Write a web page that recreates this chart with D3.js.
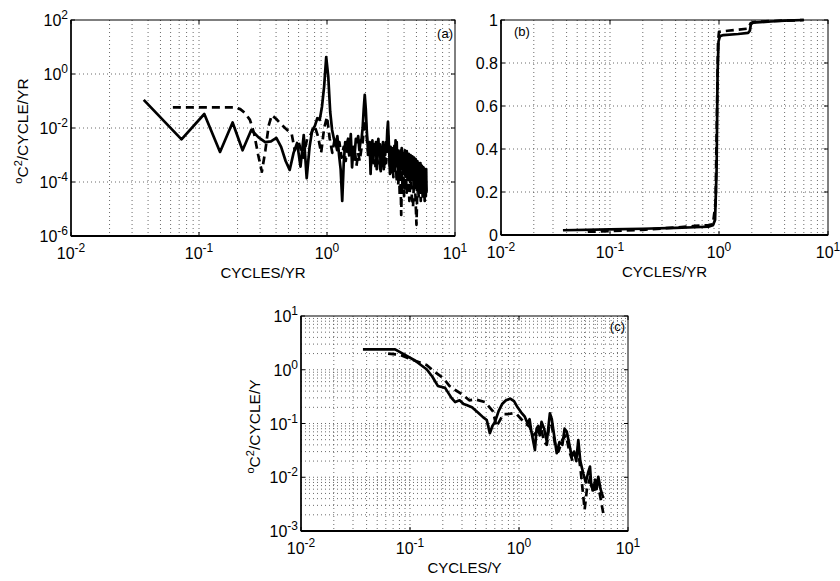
<!DOCTYPE html>
<html><head><meta charset="utf-8">
<script src="https://cdn.jsdelivr.net/npm/d3@7"></script>
<style>
body{margin:0;background:#fff}
svg{display:block}
text{font-family:"Liberation Sans",Arial,Helvetica,sans-serif;fill:#000}
</style>
</head><body>
<svg id="chart" width="840" height="581"></svg>
<script>
// ---------- DATA ----------
// Panel (a): spectra, [frequency (cycles/yr), power]
const specA_solid = [[0.037,0.11],[0.073,3.8e-3],[0.110,0.033],[0.146,1.3e-3],[0.183,0.016],[0.219,1.5e-3],[0.256,8.5e-3],[0.292,4.5e-3],[0.329,3.0e-3],[0.365,3.2e-3],[0.402,4.3e-3],[0.438,2.0e-3],[0.475,6e-4],[0.511,2.8e-4],[0.548,1.2e-3],[0.584,2.8e-3],[0.621,3.7e-4],[0.658,5.5e-3],[0.694,1.4e-4],[0.731,2e-3],[0.767,8.5e-3],[0.804,0.012],[0.840,0.023],[0.877,0.02],[0.913,0.06],[0.950,0.35],[0.986,4.2],[1.023,0.8],[1.059,0.04],[1.096,8.5e-3],[1.132,4e-3],[1.169,2.5e-3],[1.205,5e-3],[1.242,1e-3],[1.278,3e-4],[1.315,2e-5],[1.351,5e-4],[1.388,3e-3],[1.424,2.5e-3],[1.461,4e-3],[1.497,1e-3],[1.534,6e-3],[1.570,3.5e-4],[1.607,2e-3],[1.643,1e-3],[1.680,4e-3],[1.717,3e-3],[1.753,5e-3],[1.790,1.5e-3],[1.826,3e-3],[1.863,4e-3],[1.899,0.01],[1.936,0.05],[1.972,0.17],[2.009,0.05],[2.045,8e-3],[2.082,2e-3],[2.118,1e-3],[2.155,3e-3],[2.191,2e-4],[2.228,2e-3],[2.264,3.5e-3],[2.301,6e-4],[2.338,2.5e-3],[2.374,1e-3],[2.411,3e-3],[2.447,3e-4],[2.484,2.2e-3],[2.520,4e-3],[2.557,1e-3],[2.593,2.5e-3],[2.630,2.5e-4],[2.666,2e-3],[2.703,1.2e-3],[2.739,3e-3],[2.776,3e-4],[2.812,2e-3],[2.849,1e-3],[2.885,3e-3],[2.922,2e-3],[2.959,8e-3],[2.995,0.017],[3.032,4e-3],[3.068,1e-3],[3.105,2e-4],[3.141,2e-3],[3.178,7e-4],[3.214,1.8e-3],[3.251,4e-4],[3.287,1.5e-3],[3.324,8e-4],[3.360,2.2e-3],[3.397,5e-4],[3.433,3.5e-3],[3.470,1e-3],[3.506,3e-3],[3.543,4e-4],[3.580,1.5e-3],[3.616,2e-4],[3.653,1.2e-3],[3.689,5e-4],[3.726,1.5e-4],[3.762,1.5e-3],[3.799,4e-4],[3.835,1.8e-3],[3.872,3e-4],[3.908,1.2e-3],[3.945,2e-4],[3.981,1e-3],[4.018,3e-4],[4.054,1.5e-3],[4.091,2.5e-4],[4.127,1e-3],[4.164,1.5e-4],[4.200,1.4e-3],[4.237,3e-4],[4.273,9e-4],[4.310,1.2e-4],[4.347,1.1e-3],[4.383,2e-4],[4.420,8e-4],[4.456,1e-4],[4.493,1e-3],[4.529,3e-4],[4.566,7e-4],[4.602,1.2e-4],[4.639,9e-4],[4.675,2e-4],[4.712,6e-4],[4.748,8e-5],[4.785,8e-4],[4.821,1.5e-4],[4.858,5e-4],[4.894,6e-5],[4.931,7e-4],[4.968,1.5e-4],[5.004,5e-4],[5.041,5e-5],[5.077,6e-4],[5.114,1e-4],[5.150,4e-4],[5.187,5e-5],[5.223,5e-4],[5.260,8e-5],[5.296,4e-4],[5.333,4e-5],[5.369,5e-4],[5.406,7e-5],[5.442,3.5e-4],[5.479,4e-5],[5.515,4e-4],[5.552,6e-5],[5.589,3e-4],[5.625,3e-5],[5.662,3.5e-4],[5.698,5e-5],[5.735,3e-4],[5.771,3e-5],[5.808,3e-4],[5.844,4e-5],[5.881,2.5e-4],[5.917,3e-5],[5.954,3e-4],[5.990,4e-5]];
const specA_dashed = [[0.0625,0.058],[0.125,0.058],[0.19,0.058],[0.21,0.05],[0.23,0.035],[0.25,0.02],[0.27,6e-3],[0.29,1e-3],[0.31,2.4e-4],[0.33,1.5e-3],[0.35,0.012],[0.37,0.03],[0.40,0.022],[0.43,0.015],[0.47,0.01],[0.53,6e-3],[0.56,1.5e-3],[0.6,3e-3],[0.65,8e-4],[0.7,4e-3],[0.75,6e-3],[0.8,0.012],[0.85,5e-3],[0.9,1.2e-3],[0.95,0.01],[1.0,0.026],[1.05,4e-3],[1.1,1.2e-3],[1.15,4e-3],[1.2,1.5e-3],[1.25,3e-3],[1.3,8e-4],[1.35,2e-3],[1.4,6e-4],[1.45,2.5e-3],[1.5,8e-4],[1.55,2e-3],[1.6,5e-4],[1.65,1.5e-3],[1.7,4e-4],[1.75,1.2e-3],[1.8,6e-4],[1.85,1.5e-3],[1.9,3e-3],[1.95,0.012],[2.0,0.02],[2.05,4e-3],[2.1,8e-4],[2.15,1.5e-3],[2.2,4e-4],[2.25,1.2e-3],[2.3,5e-4],[2.35,1.5e-3],[2.4,3e-4],[2.45,1e-3],[2.5,5e-4],[2.55,1.2e-3],[2.6,3e-4],[2.65,1e-3],[2.7,4e-4],[2.75,1.2e-3],[2.8,3e-4],[2.85,9e-4],[2.9,5e-4],[2.95,2e-3],[3.0,5e-3],[3.05,1.5e-3],[3.1,3e-4],[3.15,8e-4],[3.2,2e-4],[3.25,7e-4],[3.3,1.5e-4],[3.35,6e-4],[3.4,2e-4],[3.45,8e-4],[3.5,1e-4],[3.55,5e-4],[3.6,8e-5],[3.65,4e-4],[3.7,3e-5],[3.75,3e-4],[3.8,6e-6],[3.85,2e-4],[3.9,5e-5],[3.95,3e-4],[4.0,3e-5],[4.1,2.5e-4],[4.2,4e-5],[4.3,3e-4],[4.4,2e-5],[4.5,2e-4],[4.6,3e-5],[4.7,1.2e-5],[4.8,2e-4],[4.9,4e-5],[5.0,2.6e-6],[5.1,1.5e-4],[5.2,3e-5],[5.3,2e-4],[5.4,2e-5],[5.5,1.5e-4],[5.6,3e-5],[5.7,1.2e-4],[5.8,2e-5],[5.9,1e-4],[6.0,3e-5]];

// Panel (b): cumulative normalized variance
const cumB_solid = [[0.037,0.022],[0.1,0.026],[0.2,0.029],[0.4,0.033],[0.6,0.036],[0.8,0.039],[0.88,0.045],[0.92,0.07],[0.95,0.3],[0.97,0.75],[0.99,0.90],[1.02,0.925],[1.1,0.93],[1.5,0.935],[1.85,0.94],[1.92,0.95],[1.96,0.98],[2.05,0.988],[3,0.993],[4,0.997],[6,1.0]];
const cumB_dashed = [[0.0625,0.015],[0.1,0.018],[0.2,0.024],[0.4,0.035],[0.6,0.042],[0.8,0.046],[0.88,0.05],[0.93,0.15],[0.96,0.6],[0.98,0.90],[1.0,0.945],[1.2,0.95],[1.5,0.955],[1.85,0.96],[1.95,0.985],[2.05,0.99],[3,0.995],[6,1.0]];

// Panel (c): spectra, [frequency (cycles/y), power]
const specC_solid = [[0.037,2.4],[0.055,2.4],[0.073,2.4],[0.11,1.5],[0.142,1.02],[0.16,0.75],[0.18,0.5],[0.21,0.46],[0.24,0.3],[0.26,0.25],[0.285,0.27],[0.31,0.23],[0.33,0.22],[0.37,0.2],[0.42,0.16],[0.47,0.13],[0.506,0.116],[0.54,0.066],[0.57,0.09],[0.6,0.105],[0.65,0.17],[0.7,0.23],[0.76,0.27],[0.83,0.29],[0.9,0.26],[0.97,0.2],[1.05,0.16],[1.13,0.134],[1.2,0.1],[1.25,0.12],[1.3,0.07],[1.4,0.032],[1.45,0.08],[1.5,0.09],[1.55,0.06],[1.61,0.107],[1.7,0.08],[1.8,0.046],[1.92,0.155],[2.0,0.12],[2.1,0.06],[2.22,0.028],[2.35,0.045],[2.5,0.04],[2.62,0.08],[2.74,0.071],[2.9,0.04],[3.05,0.024],[3.2,0.03],[3.35,0.02],[3.5,0.049],[3.65,0.02],[3.89,0.0117],[4.1,0.008],[4.3,0.012],[4.48,0.0158],[4.6,0.007],[4.8,0.0057],[5.0,0.009],[5.15,0.006],[5.34,0.0102],[5.6,0.006],[5.94,0.0041]];
const specC_dashed = [[0.063,2.0],[0.08,1.9],[0.1,1.6],[0.142,1.23],[0.17,0.9],[0.203,0.69],[0.23,0.5],[0.26,0.42],[0.3,0.35],[0.35,0.27],[0.4,0.28],[0.49,0.25],[0.58,0.166],[0.62,0.087],[0.66,0.11],[0.72,0.15],[0.8,0.15],[0.89,0.155],[0.95,0.15],[1.05,0.12],[1.15,0.1],[1.25,0.087],[1.35,0.06],[1.45,0.07],[1.6,0.08],[1.7,0.045],[1.8,0.04],[1.9,0.1],[2.0,0.09],[2.15,0.04],[2.3,0.03],[2.5,0.05],[2.7,0.06],[2.9,0.03],[3.1,0.02],[3.3,0.025],[3.5,0.03],[3.7,0.012],[4.0,0.0025],[4.2,0.006],[4.5,0.01],[4.8,0.005],[5.1,0.007],[5.5,0.005],[5.94,0.0021]];

// Tick values
const xTicks = [0.01, 0.1, 1, 10];
const yTicksA = [1e-6, 1e-4, 1e-2, 1, 1e2];
const yTicksB = [0, 0.2, 0.4, 0.6, 0.8, 1];
const yTicksC = [1e-3, 1e-2, 1e-1, 1, 10];

// ---------- DRAW ----------
const svg = d3.select('#chart');
let clipId = 0;

function minorLogValues(lo, hi) {
  const out = [];
  for (let e = Math.round(Math.log10(lo)); e < Math.round(Math.log10(hi)); e++) {
    for (let m = 1; m <= 9; m++) {
      const v = m * Math.pow(10, e);
      if (v > lo * 1.0001 && v < hi * 0.9999) out.push(v);
    }
  }
  return out;
}

function expLabel(sel, v) {
  const e = Math.round(Math.log10(v));
  sel.append('tspan').text('10');
  sel.append('tspan').attr('dy', -7).attr('font-size', 12).text(String(e));
}

function panel(o) {
  const g = svg.append('g');
  const x = d3.scaleLog().domain([0.01, 10]).range([o.x0, o.x1]);
  const y = o.ylog ? d3.scaleLog().domain(o.ydom).range([o.y1, o.y0])
                   : d3.scaleLinear().domain(o.ydom).range([o.y1, o.y0]);
  const grid = g.append('g').attr('stroke', '#444').attr('stroke-width', 0.8)
    .attr('stroke-dasharray', '1,3').attr('fill', 'none');
  minorLogValues(0.01, 10).forEach(v => {
    grid.append('line').attr('x1', x(v)).attr('x2', x(v)).attr('y1', o.y0).attr('y2', o.y1);
  });
  o.hgrid.forEach(v => {
    grid.append('line').attr('x1', o.x0).attr('x2', o.x1).attr('y1', y(v)).attr('y2', y(v));
  });

  const id = 'clip' + (clipId++);
  svg.append('clipPath').attr('id', id).append('rect')
    .attr('x', o.x0).attr('y', o.y0 - 2).attr('width', o.x1 - o.x0).attr('height', o.y1 - o.y0 + 2);
  const line = d3.line().x(d => x(d[0])).y(d => y(d[1]));
  const lg = g.append('g').attr('clip-path', `url(#${id})`);
  lg.append('path').datum(o.dashed).attr('d', line).attr('fill', 'none').attr('stroke', '#000')
    .attr('stroke-width', 2.7).attr('stroke-dasharray', '8,5').attr('stroke-linejoin', 'round');
  lg.append('path').datum(o.solid).attr('d', line).attr('fill', 'none').attr('stroke', '#000')
    .attr('stroke-width', 2.7).attr('stroke-linejoin', 'round');

  g.append('rect').attr('x', o.x0).attr('y', o.y0).attr('width', o.x1 - o.x0).attr('height', o.y1 - o.y0)
    .attr('fill', 'none').attr('stroke', '#000').attr('stroke-width', 1);
  g.append('line').attr('x1', o.x0).attr('x2', o.x1).attr('y1', o.y1).attr('y2', o.y1)
    .attr('stroke', '#000').attr('stroke-width', 2);
  g.append('line').attr('x1', o.x0).attr('x2', o.x0).attr('y1', o.y0).attr('y2', o.y1)
    .attr('stroke', '#000').attr('stroke-width', 1.5);

  const tk = g.append('g').attr('stroke', '#000').attr('stroke-width', 1);
  xTicks.forEach(v => {
    tk.append('line').attr('x1', x(v)).attr('x2', x(v)).attr('y1', o.y1).attr('y2', o.y1 - 4);
    tk.append('line').attr('x1', x(v)).attr('x2', x(v)).attr('y1', o.y0).attr('y2', o.y0 + 4);
  });
  o.yticks.forEach(v => {
    tk.append('line').attr('x1', o.x0).attr('x2', o.x0 + 4).attr('y1', y(v)).attr('y2', y(v));
    tk.append('line').attr('x1', o.x1).attr('x2', o.x1 - 4).attr('y1', y(v)).attr('y2', y(v));
  });

  xTicks.forEach(v => {
    const t = g.append('text').attr('x', x(v)).attr('y', o.y1 + 23)
      .attr('text-anchor', 'middle').attr('font-size', 16);
    expLabel(t, v);
  });
  o.yticks.forEach(v => {
    const t = g.append('text').attr('x', o.x0 - 3).attr('y', y(v) + 6)
      .attr('text-anchor', 'end').attr('font-size', 16);
    if (o.ylog) expLabel(t, v); else t.text(d3.format('~g')(v));
  });

  g.append('text').attr('x', (o.x0 + o.x1) / 2).attr('y', o.y1 + 42)
    .attr('text-anchor', 'middle').attr('font-size', 15).text(o.xlabel);
  if (o.ylabel) {
    const t = g.append('text').attr('transform', `translate(${o.ylx},${(o.y0 + o.y1) / 2 + 3}) rotate(-90)`)
      .attr('text-anchor', 'middle').attr('font-size', 15.5);
    t.append('tspan').attr('font-size', 11).attr('dy', -6).text('o');
    t.append('tspan').attr('dy', 6).text('C');
    t.append('tspan').attr('font-size', 11).attr('dy', -6).text('2');
    t.append('tspan').attr('dy', 6).text(o.ylabel);
  }
  g.append('text').attr('x', o.tagX).attr('y', o.tagY).attr('text-anchor', o.tagAnchor)
    .attr('font-size', 13).text(o.tag);
}

panel({x0: 71, x1: 455, y0: 20, y1: 236, ylog: true, ydom: [1e-6, 1e2],
  hgrid: [1e-4, 1e-2, 1], yticks: yTicksA, solid: specA_solid, dashed: specA_dashed,
  xlabel: 'CYCLES/YR', ylabel: '/CYCLE/YR', ylx: 28, tag: '(a)', tagX: 453, tagY: 38, tagAnchor: 'end'});

panel({x0: 501, x1: 828, y0: 20, y1: 235, ylog: false, ydom: [0, 1],
  hgrid: [0.2, 0.4, 0.6, 0.8], yticks: yTicksB, solid: cumB_solid, dashed: cumB_dashed,
  xlabel: 'CYCLES/YR', ylabel: null, tag: '(b)', tagX: 514, tagY: 36, tagAnchor: 'start'});

panel({x0: 301, x1: 628, y0: 316, y1: 531, ylog: true, ydom: [1e-3, 10],
  hgrid: minorLogValues(1e-3, 10), yticks: yTicksC,
  solid: specC_solid, dashed: specC_dashed,
  xlabel: 'CYCLES/Y', ylabel: '/CYCLE/Y', ylx: 260, tag: '(c)', tagX: 625, tagY: 331, tagAnchor: 'end'});
</script>
</body></html>
